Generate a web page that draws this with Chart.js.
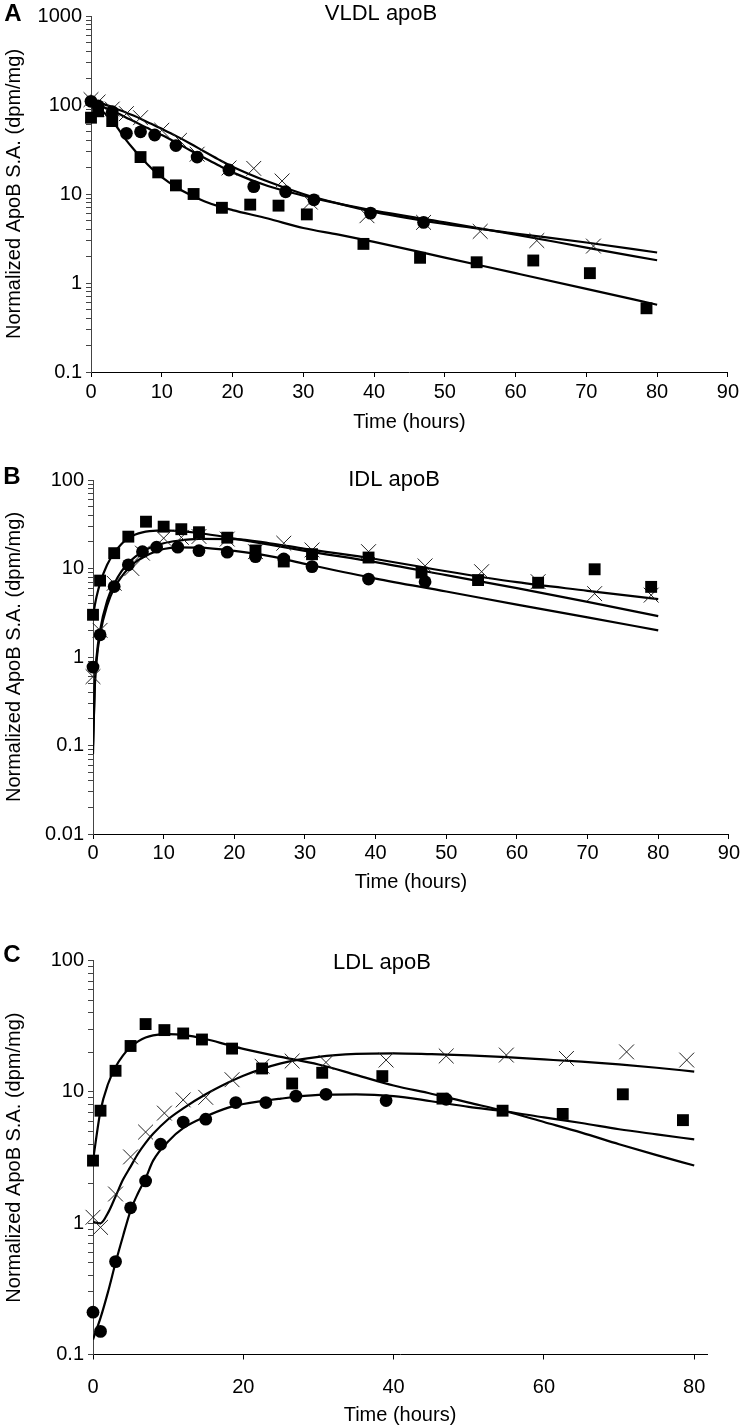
<!DOCTYPE html>
<html><head><meta charset="utf-8">
<script src="https://cdn.jsdelivr.net/npm/chart.js@4"></script>
<style>
html,body{margin:0;padding:0;background:#fff;}
#wrap{position:relative;width:742px;height:1427px;overflow:hidden;}
canvas{position:absolute;left:0;}
</style></head><body>
<div id="wrap">
<canvas id="cA" width="742" height="445" style="top:0px"></canvas>
<canvas id="cB" width="742" height="467" style="top:445px"></canvas>
<canvas id="cC" width="742" height="515" style="top:912px"></canvas>
</div>
<script>
// ---------- Panel A: VLDL apoB ----------
const vldlSqT = [0, 1, 3, 7, 9.5, 12, 14.5, 18.5, 22.5, 26.5, 30.5, 38.5, 46.5, 54.5, 62.5, 70.5, 78.5];
const vldlSq  = [72, 85, 66, 26, 17.5, 12.5, 10, 7, 7.6, 7.4, 5.9, 2.75, 1.92, 1.71, 1.79, 1.29, 0.52];
const vldlCiT = [0, 1, 3, 5, 7, 9, 12, 15, 19.5, 23, 27.5, 31.5, 39.5, 47];
const vldlCi  = [110, 98, 84, 48, 50, 46, 35, 26, 18.6, 12.1, 10.6, 8.6, 6.1, 4.8];
const vldlXT  = [0, 1, 3, 5, 7, 10, 12.5, 15, 19.5, 23, 27, 31, 39, 47, 55, 63, 71];
const vldlX   = [115, 108, 90, 80, 72, 52, 40, 28, 19.6, 19.4, 14, 8.1, 5.7, 4.8, 3.8, 3.0, 2.6];
const vldlFitT  = [0, 1, 2, 3, 4, 5, 6, 7, 8, 9, 10, 12, 14, 16, 18, 20, 25, 30, 35, 40, 50, 60, 70, 80];
const vldlFitSq = [100, 92, 80, 66, 52, 40, 32, 26, 21.5, 18, 15.5, 12, 9.8, 8.3, 7.3, 6.6, 5.3, 4.15, 3.5, 2.9, 1.93, 1.29, 0.86, 0.57];
const vldlFitCi = [105, 100, 93, 86, 79, 72, 66, 60, 55, 50, 46, 38, 31, 25.5, 21, 17.5, 12.3, 9.6, 7.8, 6.5, 4.8, 3.5, 2.5, 1.8];
const vldlFitX  = [112, 108, 101, 95, 88, 82, 76, 70, 64, 59, 54, 45, 37, 30, 24.5, 20.3, 13.8, 10, 7.8, 6.3, 4.6, 3.6, 2.85, 2.2];
const vldlYTicks  = [0.1, 1, 10, 100, 1000];
const vldlYLabels = ['0.1', '1', '10', '100', '1000'];
const vldlXTicks  = [0, 10, 20, 30, 40, 50, 60, 70, 80, 90];

// ---------- Panel B: IDL apoB ----------
const idlSqT = [0, 1, 3, 5, 7.5, 10, 12.5, 15, 19, 23, 27, 31, 39, 46.5, 54.5, 63, 71, 79];
const idlSq  = [3.0, 7.3, 14.9, 22.9, 33.8, 29.7, 27.8, 25.7, 22.3, 16, 12, 14.5, 13.3, 9.0, 7.4, 6.9, 9.8, 6.2];
const idlCiT = [0, 1, 3, 5, 7, 9, 12, 15, 19, 23, 27, 31, 39, 47];
const idlCi  = [0.77, 1.78, 6.25, 11, 15.5, 17.4, 17.4, 15.9, 15.3, 13.6, 12.8, 10.5, 7.6, 7.1];
const idlXT  = [0, 1, 3, 5.5, 7, 10, 12.5, 15, 19, 23, 27, 31, 39, 47, 55, 63, 71, 79];
const idlX   = [0.6, 2.0, 6.8, 10, 14.9, 22, 22.5, 23, 21.5, 15.5, 19.3, 16.2, 15.5, 10.7, 9.2, 7.1, 5.2, 5.0];
const idlFitT  = [0, 0.25, 0.5, 1, 2, 3, 4, 5, 6, 7, 8, 10, 12, 15, 20, 25, 30, 40, 50, 60, 70, 80];
const idlFitSq = [2.8, 3.8, 4.8, 6.8, 11, 15, 18.8, 22, 24.2, 25.6, 26.4, 27, 26.6, 25.2, 21.8, 18.6, 15.8, 11.8, 8.4, 6.0, 4.2, 2.9];
const idlFitX  = [0.08, 0.5, 1.0, 2.0, 4.3, 6.7, 9.2, 11.5, 13.6, 15.4, 17, 19.3, 20.6, 21.6, 21.5, 19.3, 16.7, 12.8, 9.3, 7.0, 5.6, 4.5];
const idlFitCi = [0.1, 0.45, 0.9, 1.8, 3.8, 6.0, 8.0, 10, 11.8, 13.2, 14.6, 16.6, 17.3, 17.2, 15.8, 13.8, 11.3, 7.7, 5.5, 3.9, 2.8, 2.0];
const idlYTicks  = [0.01, 0.1, 1, 10, 100];
const idlYLabels = ['0.01', '0.1', '1', '10', '100'];
const idlXTicks  = [0, 10, 20, 30, 40, 50, 60, 70, 80, 90];

// ---------- Panel C: LDL apoB ----------
const ldlSqT = [0, 1, 3, 5, 7, 9.5, 12, 14.5, 18.5, 22.5, 26.5, 30.5, 38.5, 46.5, 54.5, 62.5, 70.5, 78.5];
const ldlSq  = [3.0, 7.2, 14.5, 22.4, 32.9, 29.6, 27.9, 25.1, 21.4, 15.1, 11.6, 14.0, 13.2, 8.9, 7.2, 6.8, 9.6, 6.1];
const ldlCiT = [0, 1, 3, 5, 7, 9, 12, 15, 19, 23, 27, 31, 39, 47];
const ldlCi  = [0.21, 0.15, 0.51, 1.31, 2.1, 4.0, 5.9, 6.2, 8.3, 8.3, 9.3, 9.6, 8.6, 8.8];
const ldlXT  = [0, 1, 3, 5, 7, 9.5, 12, 15, 18.5, 22.5, 26.5, 31, 39, 47, 55, 63, 71, 79];
const ldlX   = [1.11, 0.93, 1.67, 3.2, 4.95, 6.9, 8.7, 9.1, 12.4, 15.7, 17.2, 16.8, 17.5, 18.8, 19.1, 18.0, 20.2, 17.5];
const ldlFitT  = [0, 1, 2, 3, 4, 5, 6, 7, 8, 10, 12, 15, 18, 20, 25, 30, 35, 40, 45, 50, 55, 60, 65, 70, 75, 80];
const ldlFitSq = [3.0, 7.2, 11.5, 15.5, 19, 22, 24.3, 26, 27, 27.6, 27.2, 25.3, 22.8, 21.3, 18.5, 16.2, 13.5, 11.2, 9.7, 8.3, 7.1, 5.9, 4.9, 4.0, 3.3, 2.75];
const ldlFitCi = [0.13, 0.19, 0.3, 0.5, 0.8, 1.25, 1.7, 2.2, 3.0, 4.2, 5.3, 6.5, 7.6, 8.1, 8.9, 9.5, 9.6, 9.3, 8.5, 7.7, 7.1, 6.4, 5.8, 5.2, 4.75, 4.35];
const ldlFitX  = [1.02, 1.0, 1.2, 1.6, 2.15, 2.7, 3.4, 4.1, 4.8, 6.2, 7.5, 9.6, 11.8, 13.3, 16.5, 18.5, 19.5, 19.7, 19.4, 19.0, 18.4, 17.7, 17.0, 16.2, 15.3, 14.3];
const ldlYTicks  = [0.1, 1, 10, 100];
const ldlYLabels = ['0.1', '1', '10', '100'];
const ldlXTicks  = [0, 20, 40, 60, 80];

// ---------- helpers ----------
const FONT = '"Liberation Sans", Arial, Helvetica, sans-serif';
const pts = (ts, vs) => ts.map((t, i) => ({x: t, y: vs[i]}));

function logTicks(majors) {
  const out = [];
  for (let i = 0; i < majors.length; i++) {
    out.push({value: majors[i], major: true});
    if (i < majors.length - 1) {
      for (let k = 2; k <= 9; k++) out.push({value: +(majors[i] * k).toPrecision(6), major: false});
    }
  }
  return out;
}

const annot = {
  id: 'annot',
  afterDraw(chart, args, o) {
    const ctx = chart.ctx;
    ctx.save();
    ctx.fillStyle = '#000';
    ctx.textBaseline = 'middle';
    ctx.textAlign = 'center';
    ctx.font = 'bold 24px ' + FONT;
    ctx.fillText(o.letter, o.letterX, o.letterY);
    ctx.font = o.titleSize + 'px ' + FONT;
    ctx.fillText(o.title, o.titleX, o.titleY);
    ctx.restore();
  }
};

function scatterSet(ts, vs, style) {
  const base = {type: 'scatter', data: pts(ts, vs), showLine: false, borderWidth: 0, clip: false,
    backgroundColor: '#000', borderColor: '#000', pointHoverRadius: 0};
  if (style === 'sq') return Object.assign(base, {pointStyle: 'rect', pointRadius: 8.4});
  if (style === 'ci') return Object.assign(base, {pointStyle: 'circle', pointRadius: 6.4});
  return Object.assign(base, {pointStyle: 'crossRot', pointRadius: 10.5, borderWidth: 1, borderColor: '#222', backgroundColor: '#222'});
}
function lineSet(ts, vs) {
  return {type: 'line', data: pts(ts, vs), showLine: true, borderColor: '#000', borderWidth: 2.2,
    pointRadius: 0, fill: false, cubicInterpolationMode: 'monotone'};
}

function makeChart(id, cfg) {
  const fontTick = {family: FONT, size: 20};
  new Chart(document.getElementById(id), {
    type: 'scatter',
    data: {datasets: cfg.datasets},
    plugins: [annot],
    options: {
      responsive: false, animation: false, devicePixelRatio: 1,
      layout: {padding: {top: cfg.top, right: cfg.right, bottom: 0, left: 0}},
      plugins: {legend: {display: false}, tooltip: {enabled: false}, annot: cfg.annot},
      scales: {
        x: {
          type: 'linear', min: 0, max: cfg.xMax,
          afterBuildTicks: s => { s.ticks = cfg.xTicks.map(v => ({value: v})); },
          afterFit: s => { s.height = cfg.xH; },
          ticks: {font: fontTick, color: '#000', padding: cfg.xPad, maxRotation: 0, autoSkip: false,
                  callback: v => String(v)},
          grid: {drawOnChartArea: false, drawTicks: true, tickLength: 5, color: '#000'},
          border: {display: true, color: '#000', width: 1},
          title: {display: true, text: 'Time (hours)', color: '#000', font: {family: FONT, size: 20},
                  padding: {top: 0, bottom: cfg.xTitlePad}}
        },
        y: {
          type: 'logarithmic', min: cfg.yTicks[0], max: cfg.yTicks[cfg.yTicks.length - 1],
          afterBuildTicks: s => { s.ticks = logTicks(cfg.yTicks); },
          afterFit: s => { s.width = cfg.yW; },
          ticks: {font: fontTick, color: '#000', padding: 4, autoSkip: false,
                  callback: v => { const i = cfg.yTicks.findIndex(m => Math.abs(m - v) < m * 1e-6); return i >= 0 ? cfg.yLabels[i] : ''; }},
          grid: {drawOnChartArea: false, drawTicks: true, tickLength: 5, color: '#444'},
          border: {display: true, color: '#444', width: 1},
          title: {display: true, text: 'Normalized ApoB S.A. (dpm/mg)', color: '#000', font: {family: FONT, size: 20},
                  padding: {top: 2, bottom: 0}}
        }
      }
    }
  });
}

makeChart('cA', {
  datasets: [
    scatterSet(vldlSqT, vldlSq, 'sq'), scatterSet(vldlCiT, vldlCi, 'ci'), scatterSet(vldlXT, vldlX, 'x'),
    lineSet(vldlFitT, vldlFitSq), lineSet(vldlFitT, vldlFitCi), lineSet(vldlFitT, vldlFitX)
  ],
  top: 15, right: 11, xH: 73, xPad: 3, xTitlePad: 11, yW: 91, xMax: 90,
  xTicks: vldlXTicks, yTicks: vldlYTicks, yLabels: vldlYLabels,
  annot: {letter: 'A', letterX: 13, letterY: 14, title: 'VLDL apoB', titleX: 381, titleY: 14, titleSize: 22}
});
makeChart('cB', {
  datasets: [
    scatterSet(idlSqT, idlSq, 'sq'), scatterSet(idlCiT, idlCi, 'ci'), scatterSet(idlXT, idlX, 'x'),
    lineSet(idlFitT, idlFitSq), lineSet(idlFitT, idlFitX), lineSet(idlFitT, idlFitCi)
  ],
  top: 35, right: 12, xH: 78, xPad: 2, xTitlePad: 18, yW: 93, xMax: 90,
  xTicks: idlXTicks, yTicks: idlYTicks, yLabels: idlYLabels,
  annot: {letter: 'B', letterX: 12, letterY: 32, title: 'IDL apoB', titleX: 394, titleY: 35, titleSize: 22}
});
makeChart('cC', {
  datasets: [
    scatterSet(ldlSqT, ldlSq, 'sq'), scatterSet(ldlCiT, ldlCi, 'ci'), scatterSet(ldlXT, ldlX, 'x'),
    lineSet(ldlFitT, ldlFitSq), lineSet(ldlFitT, ldlFitCi), lineSet(ldlFitT, ldlFitX)
  ],
  top: 48.7, right: 35, xH: 72.5, xPad: 15.5, xTitlePad: 0, yW: 93, xMax: 81.7,
  xTicks: ldlXTicks, yTicks: ldlYTicks, yLabels: ldlYLabels,
  annot: {letter: 'C', letterX: 12, letterY: 43, title: 'LDL apoB', titleX: 382, titleY: 51, titleSize: 22}
});
</script>
</body></html>
